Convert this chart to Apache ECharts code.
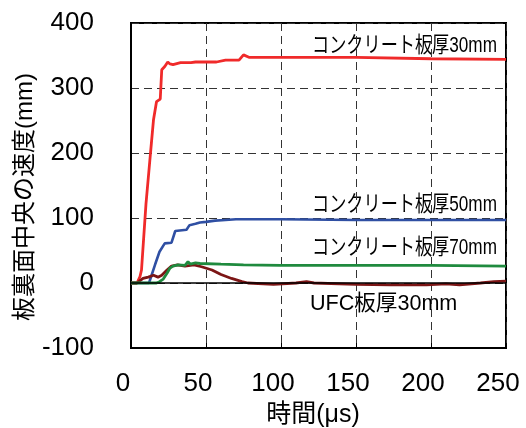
<!DOCTYPE html>
<html>
<head>
<meta charset="utf-8">
<script src="https://cdn.jsdelivr.net/npm/echarts@6/dist/echarts.min.js"></script>
<style>
html,body{margin:0;padding:0;background:#fff;}
#chart{width:526px;height:428px;}
</style>
</head>
<body>
<div id="chart"></div>
<script>
// time (μs), velocity (mm)
var concrete30 = [[0,0],[4,0],[6,10],[7,20],[10,122],[13,200],[15,251],[17,279],[19.5,283],[20.5,328],[22.5,333],[24.5,340],[26,337],[28,336],[33,339],[40,339],[43,340],[57,340],[63,343],[72,343],[75,351],[79,347],[120,347],[150,347],[200,345],[250,344]];
var concrete50 = [[0,0],[12,0],[13,2],[16,28],[19,48],[22.5,61],[27,62],[29.5,80],[30.5,82],[37,82],[39,89],[43,91],[46,93],[50,94],[56,96],[63,97],[70,98],[100,98],[150,97],[200,97],[250,97]];
var concrete70 = [[0,0],[17,0],[19,2],[21.5,6],[24,15],[26,23],[28,26],[31.5,28],[36,27],[38,33],[39.5,29],[43,31],[46,30],[60,29],[75,28],[100,27],[150,27],[200,27],[250,26]];
var ufc30 = [[0,0],[4,0],[5,2],[8,7],[11.5,9],[15,12],[18,9],[20.5,12],[24,20],[27,26],[31,28],[36,26],[42,28],[47,25],[54,20],[60,13],[67,7],[74,2],[78,0],[95,-2],[110,0],[117,2],[122,0],[150,-2],[173,-3],[197,-3],[210,-1.5],[219,-3],[233,0],[242,2],[250,3]];
var seriesNames = ['コンクリート板厚30mm','コンクリート板厚50mm','コンクリート板厚70mm','UFC板厚30mm'];
var xTicks = {min:0, max:250, interval:50};
var yTicks = {min:-100, max:400, interval:100};
var xName = '時間(μs)';
var yName = '板裏面中央の速度(mm)';

var numFont = '"Liberation Sans Narrow","Liberation Sans","DejaVu Sans Condensed",sans-serif';
var jpFont = '"Liberation Sans","Noto Sans CJK JP",sans-serif';

var chart = echarts.init(document.getElementById('chart'));
function line(name, data, color, w){
  return {name:name, type:'line', data:data, symbol:'none', smooth:false,
    lineStyle:{color:color, width:w}, itemStyle:{color:color}, animation:false};
}
var s = [
  line(seriesNames[0], concrete30, '#f02a2a', 2.8),
  line(seriesNames[1], concrete50, '#2f4fa3', 2.6),
  line(seriesNames[3], ufc30, '#7c1515', 2.8),
  line(seriesNames[2], concrete70, '#1f8a3e', 2.8)
];
s[0].markLine = {silent:true, symbol:'none', label:{show:false}, animation:false,
  lineStyle:{color:'#000', type:'solid', width:1.5}, data:[{yAxis:0}]};

chart.setOption({
  animation:false,
  backgroundColor:'#fff',
  grid:{left:131, right:20, top:23, bottom:80, show:true, borderColor:'#000', borderWidth:2,
    containLabel:false, outerBoundsMode:'none'},
  xAxis:{type:'value', min:xTicks.min, max:xTicks.max, interval:xTicks.interval,
    name:xName, nameLocation:'middle', nameGap:55,
    nameTextStyle:{fontSize:25, color:'#000', fontFamily:jpFont, padding:[0,11,0,0]},
    axisLine:{show:true, onZero:false, lineStyle:{color:'#000', width:2}},
    axisTick:{show:true, inside:true, length:5, lineStyle:{color:'#000', width:1}},
    axisLabel:{fontSize:26, color:'#000', fontFamily:numFont, margin:23, padding:[0,16,0,0]},
    splitLine:{show:true, lineStyle:{color:'#333', type:[8,5], width:1}}
  },
  yAxis:{type:'value', min:yTicks.min, max:yTicks.max, interval:yTicks.interval,
    axisLine:{show:true, lineStyle:{color:'#000', width:2}},
    axisTick:{show:false},
    axisLabel:{fontSize:26, color:'#000', fontFamily:numFont, margin:37},
    splitLine:{show:true, lineStyle:{color:'#333', type:[8,5], width:1}}
  },
  graphic:[
    {type:'text', x:25, y:197, rotation:Math.PI/2, silent:true, style:{text:yName, fontSize:24, fontFamily:jpFont, fill:'#000', align:'center', verticalAlign:'middle'}},
    {type:'text', x:312, y:46, scaleX:0.78, silent:true, style:{text:seriesNames[0], fontSize:22, fontFamily:jpFont, fill:'#000', align:'left', verticalAlign:'middle'}},
    {type:'text', x:312, y:205, scaleX:0.78, silent:true, style:{text:seriesNames[1], fontSize:22, fontFamily:jpFont, fill:'#000', align:'left', verticalAlign:'middle'}},
    {type:'text', x:312, y:248, scaleX:0.78, silent:true, style:{text:seriesNames[2], fontSize:22, fontFamily:jpFont, fill:'#000', align:'left', verticalAlign:'middle'}},
    {type:'text', x:310, y:304, scaleX:0.98, silent:true, style:{text:seriesNames[3], fontSize:22, fontFamily:jpFont, fill:'#000', align:'left', verticalAlign:'middle'}}
  ],
  series:s
});
</script>
</body>
</html>
